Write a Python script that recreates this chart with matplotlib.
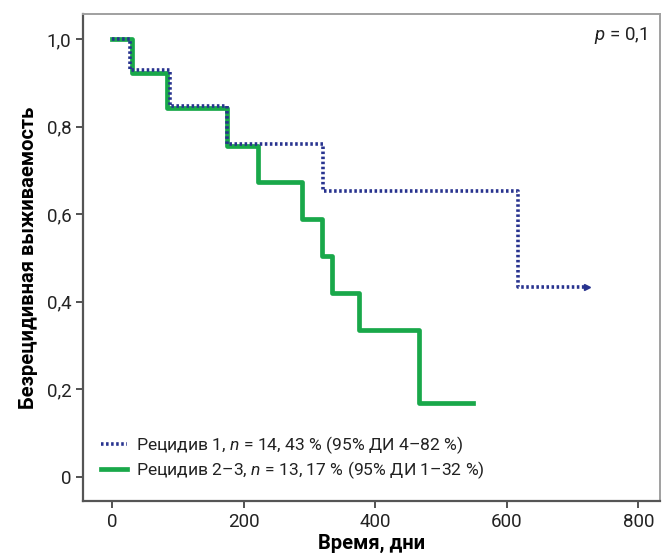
import matplotlib
matplotlib.use("Agg")
import matplotlib.pyplot as plt

plt.rcParams['font.family'] = ['Roboto', 'DejaVu Sans']
plt.rcParams['mathtext.fontset'] = 'custom'
plt.rcParams['mathtext.rm'] = 'Roboto'
plt.rcParams['mathtext.it'] = 'Roboto:italic'

# Kaplan-Meier steps
relapse1_t = [0, 27, 88, 175, 321, 617, 722]
relapse1_s = [1.0, 0.929, 0.847, 0.760, 0.653, 0.434, 0.434]
relapse23_t = [0, 30, 84, 175, 222, 289, 319, 335, 376, 467, 549]
relapse23_s = [1.0, 0.923, 0.842, 0.756, 0.674, 0.589, 0.505, 0.42, 0.336, 0.169, 0.169]

yticks = [0, 0.2, 0.4, 0.6, 0.8, 1.0]
ytick_labels = ["0", "0,2", "0,4", "0,6", "0,8", "1,0"]
xticks = [0, 200, 400, 600, 800]

fig = plt.figure(figsize=(6.65, 5.57), dpi=100)
ax = fig.add_axes([0.125, 0.1005, 0.8675, 0.8745])

ax.step(relapse1_t, relapse1_s, where='post', color='#28338f', lw=2.6,
        linestyle=(0, (0.7, 0.7)), label="Рецидив 1, $n$ = 14, 43 % (95% ДИ 4–82 %)", zorder=3)
ax.plot(relapse1_t[-1], relapse1_s[-1], marker='>', color='#28338f', ms=4, zorder=3)
ax.step(relapse23_t, relapse23_s, where='post', color='#19a84a', lw=3.4,
        label="Рецидив 2–3, $n$ = 13, 17 % (95% ДИ 1–32 %)", zorder=2)

ax.set_xlim(-44, 833)
ax.set_ylim(-0.055, 1.057)
ax.set_xticks(xticks)
ax.set_xticklabels([str(v) for v in xticks])
ax.set_yticks(yticks)
ax.set_yticklabels(ytick_labels)
ax.tick_params(axis='both', labelsize=13.5, length=5, width=1.3, color='#444444',
               labelcolor='#222222', direction='out')

for side in ['left', 'bottom']:
    ax.spines[side].set_color('#555555')
    ax.spines[side].set_linewidth(1.6)
for side in ['top', 'right']:
    ax.spines[side].set_color('#a0a0a0')
    ax.spines[side].set_linewidth(1.4)

ax.set_xlabel("Время, дни", fontsize=14.5, fontweight='bold', labelpad=2)
ax.set_ylabel("Безрецидивная выживаемость", fontsize=14.5, fontweight='bold', labelpad=6)

ax.text(0.978, 0.955, "$p$ = 0,1", transform=ax.transAxes, ha='right', va='center',
        fontsize=13.5, color='#222222')

leg = ax.legend(loc='lower left', bbox_to_anchor=(0.0, 0.005), frameon=False, fontsize=12.6,
                handlelength=1.5, handletextpad=0.5, labelspacing=0.2, borderaxespad=0.6)
for t in leg.get_texts():
    t.set_color('#222222')

fig.savefig("out.png", dpi=100)
